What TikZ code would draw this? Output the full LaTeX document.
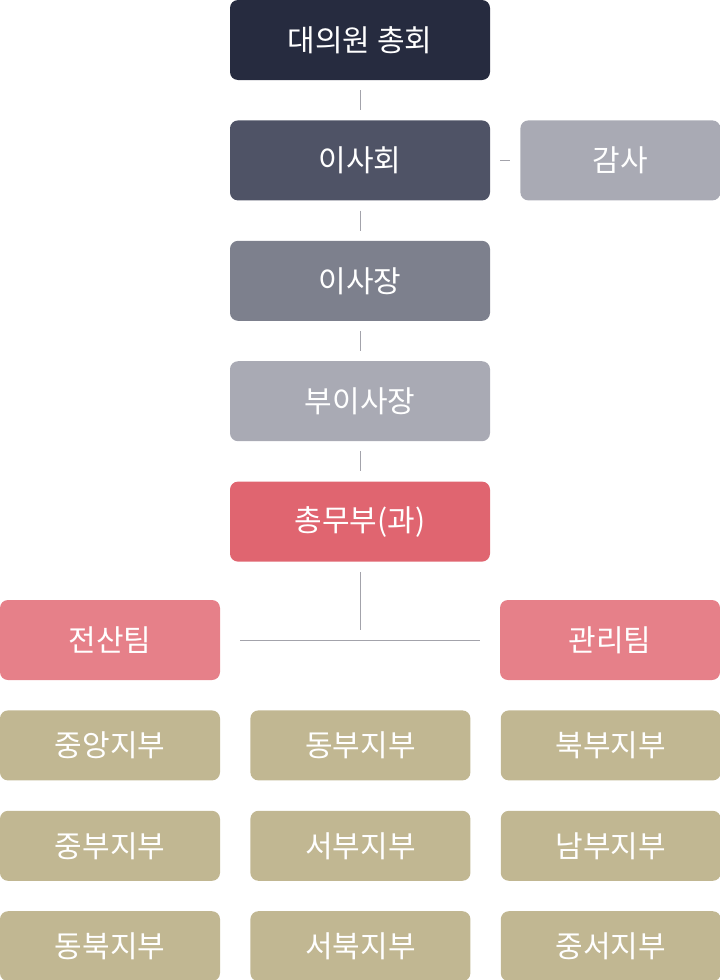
\documentclass[tikz,border=0pt]{standalone}
\usepackage{fontspec}
\setmainfont{Noto Sans CJK KR}
\usetikzlibrary{positioning}

\definecolor{navy}{HTML}{262B3F}
\definecolor{slate}{HTML}{4F5366}
\definecolor{greyblue}{HTML}{7D808D}
\definecolor{lightgrey}{HTML}{A9AAB4}
\definecolor{rose}{HTML}{E06570}
\definecolor{pink}{HTML}{E68089}
\definecolor{khaki}{HTML}{C1B792}
\definecolor{linegrey}{HTML}{A3A3AB}

\begin{document}
\begin{tikzpicture}
		[x=1pt, y=1pt,
		box/.style={rectangle, rounded corners=8pt, text=white, inner sep=0pt,
			minimum width=260pt, minimum height=80pt, font=\fontsize{30}{34}\selectfont},
		team/.style={box, minimum width=220pt},
		branch/.style={box, fill=khaki, minimum width=220pt, minimum height=70pt},
		link/.style={draw=linegrey, line width=1pt, shorten <=10pt, shorten >=10pt},
		node distance=40pt]
		\useasboundingbox (0,0) rectangle (720,-980);
		\node[box, fill=navy] (GM) at (360,-40) {대의원 총회};
		\node[box, fill=slate, below=of GM] (Board) {이사회};
		\node[box, fill=lightgrey, minimum width=200pt, right=30pt of Board] (Audit) {감사};
		\node[box, fill=greyblue, below=of Board] (Chair) {이사장};
		\node[box, fill=lightgrey, below=of Chair] (Vice) {부이사장};
		\node[box, fill=rose, below=of Vice] (Admin) {총무부(과)};
		\coordinate (hub) at (360,-640);
		\node[team, fill=pink] (IT) at (110,-640) {전산팀};
		\node[team, fill=pink] (Mgmt) at (610,-640) {관리팀};
		% branches
		\node[branch, below=30pt of IT] (b1) {중앙지부};
		\node[branch, below=30pt of b1] (b4) {중부지부};
		\node[branch, below=30pt of b4] (b7) {동북지부};
		\node[branch, right=30pt of b1] (b2) {동부지부};
		\node[branch, right=30pt of b4] (b5) {서부지부};
		\node[branch, right=30pt of b7] (b8) {서북지부};
		\node[branch, right=30pt of b2] (b3) {북부지부};
		\node[branch, right=30pt of b5] (b6) {남부지부};
		\node[branch, right=30pt of b8] (b9) {중서지부};
		% connectors
		\draw[link] (GM) -- (Board);
		\draw[link] (Board) -- (Audit);
		\draw[link] (Board) -- (Chair);
		\draw[link] (Chair) -- (Vice);
		\draw[link] (Vice) -- (Admin);
		\draw[link] (Admin) -- (hub);
		\draw[link, shorten <=20pt, shorten >=20pt] (IT) -- (Mgmt);
	\end{tikzpicture}
\end{document}
